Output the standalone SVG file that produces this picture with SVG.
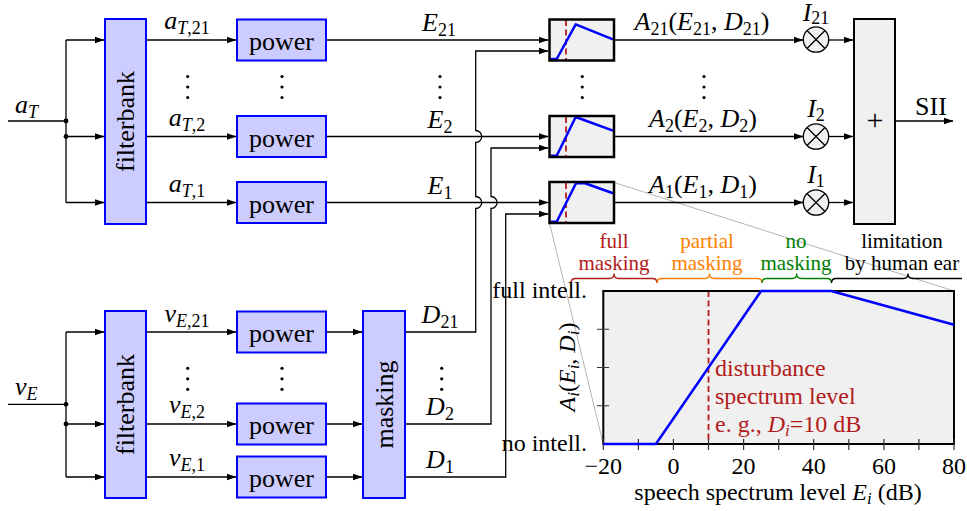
<svg xmlns="http://www.w3.org/2000/svg" width="967" height="511" viewBox="0 0 967 511">
<defs>
<marker id="ar" markerWidth="10" markerHeight="8" refX="9.5" refY="4" orient="auto" markerUnits="userSpaceOnUse"><path d="M0,0.6 L10,4 L0,7.4 z" fill="#000"/></marker>
<style>
.t{font-family:"Liberation Serif","DejaVu Serif",serif;fill:#000}
.L{font-size:26px}
.M{font-size:24px}
.S{font-size:21px}
.i{font-style:italic}
.sub{font-size:18px}
.sm{font-size:17px}
.fb{fill:#ccccff;stroke:#0000ff;stroke-width:2}
.gf{fill:#f0f0f0;stroke:none}
.gs{fill:none;stroke:#000;stroke-width:2.5}
.c{fill:none;stroke:#000;stroke-width:1.3}
.ca{fill:none;stroke:#000;stroke-width:1.3;marker-end:url(#ar)}
.dot{fill:#000}
.bl{fill:none;stroke:#0000ff;stroke-width:2.5;stroke-linejoin:round}
.rd{fill:none;stroke:#b31b1b;stroke-width:1.8;stroke-dasharray:6 3.5}
.zm{fill:none;stroke:#b4b4b4;stroke-width:1}
.tk{stroke:#333;stroke-width:1.2}
.ci{fill:#f0f0f0;stroke:#000;stroke-width:1.3}
.red{fill:#b31b1b}
.org{fill:#ff8000}
.grn{fill:#008000}
</style>
</defs>
<rect width="967" height="511" fill="#fff"/>

<g id="zoomlines">
<path class="zm" d="M549.5,223 L603.3,444 M614,182.5 L954,291"/>
</g>

<g id="connectors">
<path class="c" d="M8,121 H66 M66,40 V202.5"/>
<path class="ca" d="M66,40 H104"/>
<path class="ca" d="M66,136.5 H104"/>
<path class="ca" d="M66,202.5 H104"/>
<circle class="dot" cx="66" cy="121" r="2.4"/>
<circle class="dot" cx="66" cy="136.5" r="2.4"/>
<path class="ca" d="M146,40 H236"/>
<path class="ca" d="M146,136.5 H236"/>
<path class="ca" d="M146,202.5 H236"/>
<path class="ca" d="M326,40 H548"/>
<path class="ca" d="M326,136.5 H548"/>
<path class="ca" d="M326,202.5 H548"/>
<path class="ca" d="M405,332 H475.7 V208.5 A6,6 0 0 0 475.7,196.5 V142.5 A6,6 0 0 0 475.7,130.5 V51 H548"/>
<path class="ca" d="M405,424 H491 V208.5 A6,6 0 0 0 491,196.5 V148 H548"/>
<path class="ca" d="M405,477 H505.7 V214 H548"/>
<path class="ca" d="M614,40 H803"/>
<path class="ca" d="M614,136.5 H803"/>
<path class="ca" d="M614,202.5 H803"/>
<path class="ca" d="M829,40 H853"/>
<path class="ca" d="M829,136.5 H853"/>
<path class="ca" d="M829,202.5 H853"/>
<path class="ca" d="M895,121 H953"/>
<path class="c" d="M8,404.3 H66 M66,332 V477"/>
<path class="ca" d="M66,332 H104"/>
<path class="ca" d="M66,424 H104"/>
<path class="ca" d="M66,477 H104"/>
<circle class="dot" cx="66" cy="404.3" r="2.4"/>
<circle class="dot" cx="66" cy="424" r="2.4"/>
<path class="ca" d="M146,332 H236"/>
<path class="ca" d="M146,424 H236"/>
<path class="ca" d="M146,477 H236"/>
<path class="ca" d="M326,332 H362"/>
<path class="ca" d="M326,424 H362"/>
<path class="ca" d="M326,477 H362"/>
</g>

<g id="labels">
<text class="t L" x="15" y="113"><tspan class="i">a</tspan><tspan class="i sub" dy="5">T</tspan></text>
<text class="t L" x="187" y="29" text-anchor="middle"><tspan class="i">a</tspan><tspan class="sub" dy="5"><tspan class="i">T</tspan>,21</tspan></text>
<text class="t L" x="187" y="126" text-anchor="middle"><tspan class="i">a</tspan><tspan class="sub" dy="5"><tspan class="i">T</tspan>,2</tspan></text>
<text class="t L" x="187" y="192" text-anchor="middle"><tspan class="i">a</tspan><tspan class="sub" dy="5"><tspan class="i">T</tspan>,1</tspan></text>
<text class="t L" x="15" y="395"><tspan class="i">v</tspan><tspan class="i sub" dy="5">E</tspan></text>
<text class="t L" x="187" y="321.5" text-anchor="middle"><tspan class="i">v</tspan><tspan class="sub" dy="5"><tspan class="i">E</tspan>,21</tspan></text>
<text class="t L" x="187" y="413" text-anchor="middle"><tspan class="i">v</tspan><tspan class="sub" dy="5"><tspan class="i">E</tspan>,2</tspan></text>
<text class="t L" x="187" y="466" text-anchor="middle"><tspan class="i">v</tspan><tspan class="sub" dy="5"><tspan class="i">E</tspan>,1</tspan></text>
<text class="t L" x="439" y="31" text-anchor="middle"><tspan class="i">E</tspan><tspan class="sub" dy="5">21</tspan></text>
<text class="t L" x="440" y="128" text-anchor="middle"><tspan class="i">E</tspan><tspan class="sub" dy="5">2</tspan></text>
<text class="t L" x="440" y="194" text-anchor="middle"><tspan class="i">E</tspan><tspan class="sub" dy="5">1</tspan></text>
<text class="t L" x="440" y="323" text-anchor="middle"><tspan class="i">D</tspan><tspan class="sub" dy="5">21</tspan></text>
<text class="t L" x="440" y="415" text-anchor="middle"><tspan class="i">D</tspan><tspan class="sub" dy="5">2</tspan></text>
<text class="t L" x="440" y="468" text-anchor="middle"><tspan class="i">D</tspan><tspan class="sub" dy="5">1</tspan></text>
<text class="t L" x="702" y="30" text-anchor="middle"><tspan class="i">A</tspan><tspan class="sub" dy="5">21</tspan><tspan dy="-5">(</tspan><tspan class="i">E</tspan><tspan class="sub" dy="5">21</tspan><tspan dy="-5">, </tspan><tspan class="i">D</tspan><tspan class="sub" dy="5">21</tspan><tspan dy="-5">)</tspan></text>
<text class="t L" x="703" y="127" text-anchor="middle"><tspan class="i">A</tspan><tspan class="sub" dy="5">2</tspan><tspan dy="-5">(</tspan><tspan class="i">E</tspan><tspan class="sub" dy="5">2</tspan><tspan dy="-5">, </tspan><tspan class="i">D</tspan><tspan class="sub" dy="5">2</tspan><tspan dy="-5">)</tspan></text>
<text class="t L" x="703" y="193" text-anchor="middle"><tspan class="i">A</tspan><tspan class="sub" dy="5">1</tspan><tspan dy="-5">(</tspan><tspan class="i">E</tspan><tspan class="sub" dy="5">1</tspan><tspan dy="-5">, </tspan><tspan class="i">D</tspan><tspan class="sub" dy="5">1</tspan><tspan dy="-5">)</tspan></text>
<text class="t L" x="816" y="21" text-anchor="middle"><tspan class="i">I</tspan><tspan class="sub" dy="3">21</tspan></text>
<text class="t L" x="816" y="116.5" text-anchor="middle"><tspan class="i">I</tspan><tspan class="sub" dy="4">2</tspan></text>
<text class="t L" x="816" y="182.5" text-anchor="middle"><tspan class="i">I</tspan><tspan class="sub" dy="4">1</tspan></text>
<text class="t L" x="931" y="115" text-anchor="middle">SII</text>
</g>

<g id="vdots" class="dot">
<circle cx="187.7" cy="76.5" r="1.6"/><circle cx="187.7" cy="87" r="1.6"/><circle cx="187.7" cy="97.5" r="1.6"/>
<circle cx="282" cy="76.5" r="1.6"/><circle cx="282" cy="87" r="1.6"/><circle cx="282" cy="97.5" r="1.6"/>
<circle cx="440" cy="76.5" r="1.6"/><circle cx="440" cy="87" r="1.6"/><circle cx="440" cy="97.5" r="1.6"/>
<circle cx="582.3" cy="76.5" r="1.6"/><circle cx="582.3" cy="87" r="1.6"/><circle cx="582.3" cy="97.5" r="1.6"/>
<circle cx="704" cy="76.5" r="1.6"/><circle cx="704" cy="87" r="1.6"/><circle cx="704" cy="97.5" r="1.6"/>
<circle cx="187.7" cy="368.3" r="1.6"/><circle cx="187.7" cy="378.8" r="1.6"/><circle cx="187.7" cy="389.3" r="1.6"/>
<circle cx="282" cy="368.3" r="1.6"/><circle cx="282" cy="378.8" r="1.6"/><circle cx="282" cy="389.3" r="1.6"/>
<circle cx="441.7" cy="368.3" r="1.6"/><circle cx="441.7" cy="378.8" r="1.6"/><circle cx="441.7" cy="389.3" r="1.6"/>
</g>

<g id="filterbank1"><rect class="fb" x="105" y="19" width="41" height="205"/><text class="t L" transform="translate(134,121.5) rotate(-90)" text-anchor="middle">filterbank</text></g>
<g id="filterbank2"><rect class="fb" x="105" y="311" width="41" height="187"/><text class="t L" transform="translate(134,404.5) rotate(-90)" text-anchor="middle">filterbank</text></g>
<g id="power_a21"><rect class="fb" x="237" y="19.5" width="89" height="41"/><text class="t L" x="281.5" y="50" text-anchor="middle">power</text></g>
<g id="power_a2"><rect class="fb" x="237" y="116" width="89" height="41"/><text class="t L" x="281.5" y="146.5" text-anchor="middle">power</text></g>
<g id="power_a1"><rect class="fb" x="237" y="182" width="89" height="41"/><text class="t L" x="281.5" y="212.5" text-anchor="middle">power</text></g>
<g id="power_v21"><rect class="fb" x="237" y="311.5" width="89" height="41"/><text class="t L" x="281.5" y="342" text-anchor="middle">power</text></g>
<g id="power_v2"><rect class="fb" x="237" y="403.5" width="89" height="41"/><text class="t L" x="281.5" y="434" text-anchor="middle">power</text></g>
<g id="power_v1"><rect class="fb" x="237" y="456.5" width="89" height="41"/><text class="t L" x="281.5" y="487" text-anchor="middle">power</text></g>
<g id="masking"><rect class="fb" x="363" y="311" width="42" height="187"/><text class="t L" transform="translate(393,404.5) rotate(-90)" text-anchor="middle">masking</text></g>

<g id="A21">
<rect class="gf" x="549.5" y="19.5" width="64.5" height="41"/>
<path class="rd" d="M566,20 V60"/>
<polyline class="bl" points="550.5,59 556.7,59 575.7,24.3 613,39.3"/>
<rect class="gs" x="549.5" y="19.5" width="64.5" height="41"/>
</g>
<g id="A2">
<rect class="gf" x="549.5" y="116" width="64.5" height="41"/>
<path class="rd" d="M566,117 V156"/>
<polyline class="bl" points="550.5,155.7 556.7,155.7 575.7,117 613,130.7"/>
<rect class="gs" x="549.5" y="116" width="64.5" height="41"/>
</g>
<g id="A1">
<rect class="gf" x="549.5" y="182" width="64.5" height="41"/>
<path class="rd" d="M566,183 V222"/>
<polyline class="bl" points="550.5,221.7 556.7,221.7 576,183.2 585,183.2 613,193.3"/>
<rect class="gs" x="549.5" y="182" width="64.5" height="41"/>
</g>

<g id="mul21"><circle class="ci" cx="816" cy="39.5" r="12.7"/><path class="c" d="M807,30.5 L825,48.5 M825,30.5 L807,48.5"/></g>
<g id="mul2"><circle class="ci" cx="816" cy="136.5" r="12.7"/><path class="c" d="M807,127.5 L825,145.5 M825,127.5 L807,145.5"/></g>
<g id="mul1"><circle class="ci" cx="816" cy="202.5" r="12.7"/><path class="c" d="M807,193.5 L825,211.5 M825,193.5 L807,211.5"/></g>

<g id="sum"><rect x="854" y="19" width="41" height="205" fill="#f0f0f0" stroke="#000" stroke-width="2"/><text class="t" x="875" y="130" text-anchor="middle" font-size="30">+</text></g>

<g id="braces">
<path fill="none" stroke="#b31b1b" stroke-width="1.3" d="M571,283 Q571,278.5 575.5,278.5 L609.5,278.5 Q614,278.5 614,273.5 Q614,278.5 618.5,278.5 L652.5,278.5 Q657,278.5 657,283"/>
<path fill="none" stroke="#ff8000" stroke-width="1.3" d="M657,283 Q657,278.5 661.5,278.5 L705,278.5 Q709.5,278.5 709.5,273.5 Q709.5,278.5 714,278.5 L757.5,278.5 Q762,278.5 762,283"/>
<path fill="none" stroke="#008000" stroke-width="1.3" d="M762,283 Q762,278.5 766.5,278.5 L792.2,278.5 Q796.7,278.5 796.7,273.5 Q796.7,278.5 801.2,278.5 L827,278.5 Q831.5,278.5 831.5,283"/>
<path fill="none" stroke="#000" stroke-width="1.3" d="M831.5,283 Q831.5,278.5 836,278.5 L903.5,278.5 Q908,278.5 908,273.5 Q908,278.5 912.5,278.5 L962,278.5"/>
<text class="t S red" x="614" y="247.5" text-anchor="middle">full</text>
<text class="t S red" x="614" y="270" text-anchor="middle">masking</text>
<text class="t S org" x="707" y="247.5" text-anchor="middle">partial</text>
<text class="t S org" x="707" y="270" text-anchor="middle">masking</text>
<text class="t S grn" x="796" y="247.5" text-anchor="middle">no</text>
<text class="t S grn" x="796" y="270" text-anchor="middle">masking</text>
<text class="t S" x="902" y="247.5" text-anchor="middle">limitation</text>
<text class="t S" x="902" y="270" text-anchor="middle">by human ear</text>
</g>

<g id="plot">
<rect class="gf" x="603.3" y="291" width="350.7" height="153"/>
<path class="rd" d="M708.5,291 V444"/>
<rect x="603.3" y="291" width="350.7" height="153" fill="none" stroke="#000" stroke-width="2"/>
<path class="tk" d="M597,329.25 H609 M597,367.5 H609 M597,405.75 H609 M603.3,439 V450 M638.4,439 V450 M673.4,439 V450 M708.5,439 V450 M743.6,439 V450 M778.7,439 V450 M813.7,439 V450 M848.8,439 V450 M883.9,439 V450 M918.9,439 V450 M954,439 V450"/>
<polyline class="bl" points="603.3,444 655.9,444 761.1,291 831.2,291 954,324.7"/>
<text class="t M" x="587" y="298" text-anchor="end">full intell.</text>
<text class="t M" x="587" y="451" text-anchor="end">no intell.</text>
<text class="t M" x="603.3" y="474" text-anchor="middle">−20</text>
<text class="t M" x="673.4" y="474" text-anchor="middle">0</text>
<text class="t M" x="743.6" y="474" text-anchor="middle">20</text>
<text class="t M" x="813.7" y="474" text-anchor="middle">40</text>
<text class="t M" x="883.9" y="474" text-anchor="middle">60</text>
<text class="t M" x="954" y="474" text-anchor="middle">80</text>
<text class="t M" x="778" y="500" text-anchor="middle">speech spectrum level <tspan class="i">E</tspan><tspan class="i sm" dy="4">i</tspan><tspan dy="-4"> (dB)</tspan></text>
<text class="t M" transform="translate(575,367) rotate(-90)" text-anchor="middle"><tspan class="i">A</tspan><tspan class="i sm" dy="4">i</tspan><tspan dy="-4">(</tspan><tspan class="i">E</tspan><tspan class="i sm" dy="4">i</tspan><tspan dy="-4">, </tspan><tspan class="i">D</tspan><tspan class="i sm" dy="4">i</tspan><tspan dy="-4">)</tspan></text>
<text class="t M red" x="715" y="376">disturbance</text>
<text class="t M red" x="715" y="404">spectrum level</text>
<text class="t M red" x="715" y="431.5">e. g., <tspan class="i">D</tspan><tspan class="i sm" dy="4">i</tspan><tspan dy="-4">=10 dB</tspan></text>
</g>
</svg>
